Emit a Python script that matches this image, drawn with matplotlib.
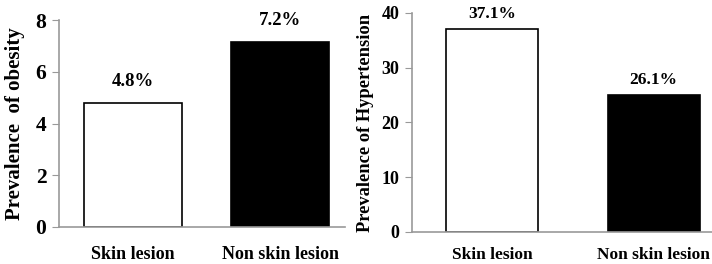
import matplotlib
matplotlib.use("Agg")
import matplotlib.pyplot as plt

categories = ["Skin lesion", "Non skin lesion"]
obesity = [4.8, 7.15]
obesity_labels = ["4.8%", "7.2%"]
hypertension = [37.1, 25.0]
hypertension_labels = ["37.1%", "26.1%"]
bar_colors = ["white", "black"]

plt.rcParams["font.family"] = ["Liberation Serif", "DejaVu Serif"]
plt.rcParams["font.weight"] = "bold"

fig = plt.figure(figsize=(7.12, 2.64), dpi=100)
spine_col = "#999999"


def panel(ax, values, labels, ylabel, ymax, step, width, xlim,
          tick_size, lab_size, lab_pad, cat_size, cat_pad, ylab_size):
    x = range(len(categories))
    ax.bar(x, values, width=width, color=bar_colors, edgecolor="black", linewidth=1.2)
    for xi, v, t in zip(x, values, labels):
        ax.text(xi, v + lab_pad, t, ha="center", va="bottom", fontsize=lab_size,
                fontweight="bold", clip_on=False)
    ax.set_xlim(*xlim)
    ax.set_ylim(0, ymax)
    ax.set_yticks(range(0, ymax + 1, step))
    ax.set_xticks(list(x))
    ax.set_xticklabels(categories, fontsize=cat_size, fontweight="bold")
    ax.tick_params(axis="x", length=0, pad=cat_pad)
    ax.tick_params(axis="y", length=5, color=spine_col, labelsize=tick_size, pad=4)
    for lab in ax.get_yticklabels():
        lab.set_fontweight("bold")
    ax.set_ylabel(ylabel, fontsize=ylab_size, fontweight="bold")
    for s in ["top", "right"]:
        ax.spines[s].set_visible(False)
    for s in ["left", "bottom"]:
        ax.spines[s].set_color(spine_col)
        ax.spines[s].set_linewidth(1.2)


ax1 = fig.add_axes([59 / 712, 1 - 227 / 264, 286 / 712, 207 / 264])
panel(ax1, obesity, obesity_labels, "Prevalence  of obesity", 8, 2, 0.667,
      (-0.504, 1.442), 15.5, 13.5, 0.5, 13, 13.5, 15)
ax1.yaxis.set_label_coords(-0.12, 0.5)

ax2 = fig.add_axes([412 / 712, 1 - 232 / 264, 300 / 712, 219 / 264])
panel(ax2, hypertension, hypertension_labels, "Prevalence of Hypertension", 40, 10,
      0.571, (-0.499, 1.363), 13, 12.5, 1.25, 12.5, 11, 13.3)
ax2.yaxis.set_label_coords(-0.125, 0.5)

fig.savefig("out.png", dpi=100)
